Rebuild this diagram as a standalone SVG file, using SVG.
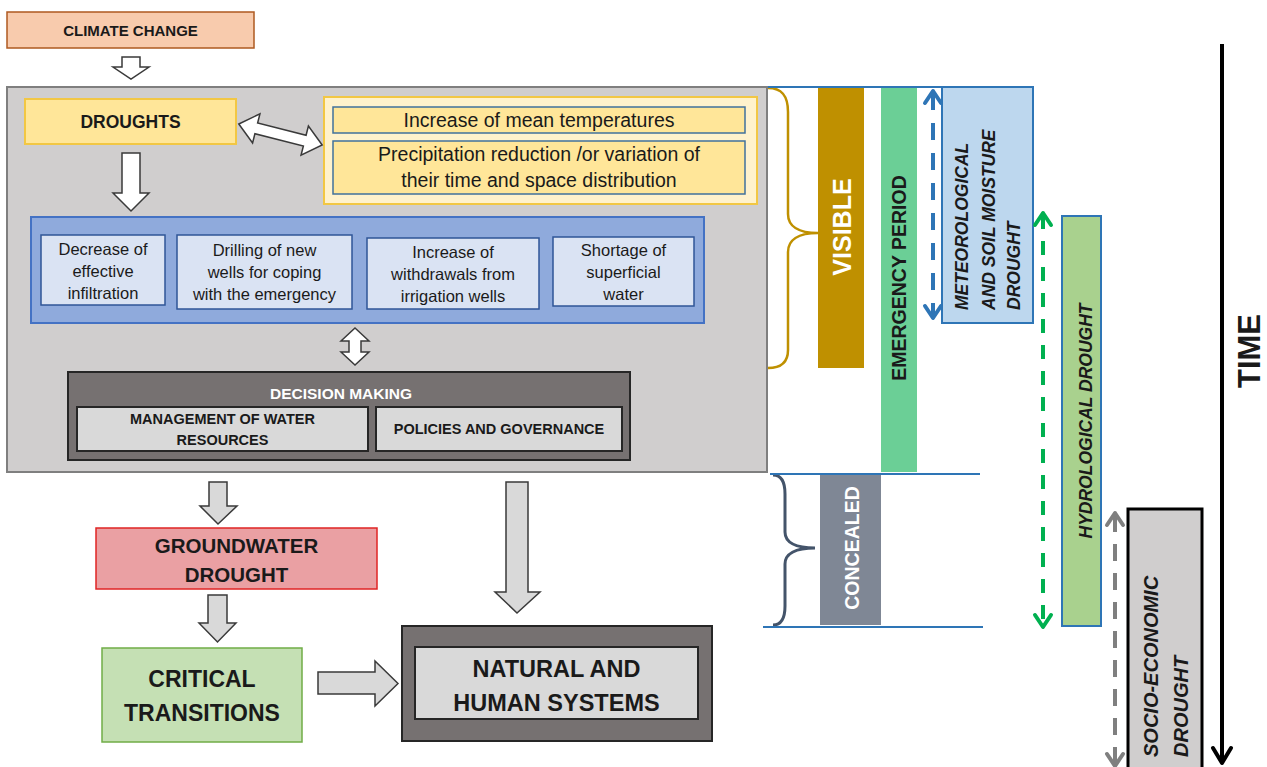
<svg xmlns="http://www.w3.org/2000/svg" width="1267" height="767" viewBox="0 0 1267 767">
  <style>
    text { font-family: "Liberation Sans", Arial, sans-serif; fill: #1a1a1a; }
    .b { font-weight: bold; }
    .bi { font-weight: bold; font-style: italic; }
    .m { text-anchor: middle; }
    .w { fill: #ffffff; }
    .blk { fill: #ffffff; stroke: #3a3a3a; stroke-width: 1.5; }
    .blkg { fill: #d9d9d9; stroke: #3a3a3a; stroke-width: 1.5; }
    .cause { fill: #dae3f3; stroke: #2f5597; stroke-width: 1.5; }
    .dash { fill: none; stroke-width: 4; }
    .head { fill: none; stroke-width: 4; stroke-linecap: round; stroke-linejoin: round; }
  </style>

  <g id="climate-change">
    <rect x="7" y="12" width="247" height="36" fill="#f8cbad" stroke="#ae5a21" stroke-width="1.5"/>
    <text x="130.5" y="36" class="b m" font-size="15">CLIMATE CHANGE</text>
  </g>

  <g id="drought-frame">
    <rect x="7" y="87" width="760" height="385" fill="#d0cece" stroke="#7f7f7f" stroke-width="2"/>
  </g>

  <g id="droughts">
    <rect x="25" y="99" width="211" height="45" fill="#ffe699" stroke="#f2c744" stroke-width="2"/>
    <text x="130.5" y="128" class="b m" font-size="17.5">DROUGHTS</text>
  </g>

  <g id="climate-drivers">
    <rect x="324" y="97" width="433" height="107" fill="#fff2cc" stroke="#f2c744" stroke-width="2"/>
    <rect x="333" y="107" width="412" height="26" fill="#ffe699" stroke="#41719c" stroke-width="1.5"/>
    <text x="539" y="127" class="m" font-size="19.5">Increase of mean temperatures</text>
    <rect x="333" y="141" width="412" height="53" fill="#ffe699" stroke="#41719c" stroke-width="1.5"/>
    <text x="539" y="161" class="m" font-size="19.5">Precipitation reduction /or variation of</text>
    <text x="539" y="187" class="m" font-size="19.5">their time and space distribution</text>
  </g>

  <g id="effects">
    <rect x="31" y="217" width="673" height="106" fill="#8faadc" stroke="#4472c4" stroke-width="2"/>
    <g id="effect-infiltration">
      <rect x="41" y="235" width="124" height="70" class="cause"/>
      <text x="103" y="255" class="m" font-size="16.5">Decrease of</text>
      <text x="103" y="277" class="m" font-size="16.5">effective</text>
      <text x="103" y="299" class="m" font-size="16.5">infiltration</text>
    </g>
    <g id="effect-new-wells">
      <rect x="177" y="235" width="175" height="74" class="cause"/>
      <text x="264.5" y="256" class="m" font-size="16.5">Drilling of new</text>
      <text x="264.5" y="278" class="m" font-size="16.5">wells for coping</text>
      <text x="264.5" y="300" class="m" font-size="16.5">with the emergency</text>
    </g>
    <g id="effect-withdrawals">
      <rect x="367" y="238" width="172" height="71" class="cause"/>
      <text x="453" y="258" class="m" font-size="16.5">Increase of</text>
      <text x="453" y="280" class="m" font-size="16.5">withdrawals from</text>
      <text x="453" y="302" class="m" font-size="16.5">irrigation wells</text>
    </g>
    <g id="effect-surface-water">
      <rect x="553" y="237" width="141" height="69" class="cause"/>
      <text x="623.5" y="256" class="m" font-size="16.5">Shortage of</text>
      <text x="623.5" y="278" class="m" font-size="16.5">superficial</text>
      <text x="623.5" y="300" class="m" font-size="16.5">water</text>
    </g>
  </g>

  <g id="decision-making">
    <rect x="68" y="372" width="562" height="88" fill="#767171" stroke="#262626" stroke-width="2"/>
    <text x="341" y="399" class="b m w" font-size="15.5">DECISION MAKING</text>
    <rect x="77" y="407" width="291" height="44" fill="#d9d9d9" stroke="#262626" stroke-width="2"/>
    <text x="222.5" y="424" class="b m" font-size="14.5">MANAGEMENT OF WATER</text>
    <text x="222.5" y="445" class="b m" font-size="14.5">RESOURCES</text>
    <rect x="376" y="407" width="246" height="44" fill="#d9d9d9" stroke="#262626" stroke-width="2"/>
    <text x="499" y="434" class="b m" font-size="14.5">POLICIES AND GOVERNANCE</text>
  </g>

  <g id="groundwater-drought">
    <rect x="96" y="528" width="281" height="61" fill="#eaa0a3" stroke="#e02424" stroke-width="1.5"/>
    <text x="236.5" y="553" class="b m" font-size="20.5">GROUNDWATER</text>
    <text x="236.5" y="582" class="b m" font-size="20.5">DROUGHT</text>
  </g>

  <g id="critical-transitions">
    <rect x="102" y="648" width="200" height="94" fill="#c5e0b4" stroke="#70ad47" stroke-width="1.5"/>
    <text x="202" y="687" class="b m" font-size="23">CRITICAL</text>
    <text x="202" y="721" class="b m" font-size="23">TRANSITIONS</text>
  </g>

  <g id="natural-human-systems">
    <rect x="402" y="626" width="310" height="115" fill="#767171" stroke="#262626" stroke-width="2"/>
    <rect x="415" y="647" width="283" height="72" fill="#d9d9d9" stroke="#262626" stroke-width="2"/>
    <text x="556.5" y="677" class="b m" font-size="23.5">NATURAL AND</text>
    <text x="556.5" y="711" class="b m" font-size="23.5">HUMAN SYSTEMS</text>
  </g>

  <!-- visible / concealed phase markers -->
  <g id="visible-phase">
    <path d="M768 88 C782 88 788 96 788 112 L788 214 C788 226 798 233 818 233 M818 233 C798 233 788 240 788 252 L788 350 C788 362 782 368 768 368" fill="none" stroke="#bf9000" stroke-width="2.5"/>
    <rect x="818" y="86" width="46" height="282" fill="#bf9000"/>
    <text transform="translate(851,227) rotate(-90)" class="b m w" font-size="25">VISIBLE</text>
  </g>

  <g id="emergency-period">
    <rect x="881" y="86" width="36" height="386" fill="#6bcf96"/>
    <text transform="translate(906,278) rotate(-90)" class="b m" font-size="19.5">EMERGENCY PERIOD</text>
  </g>

  <g id="concealed-phase">
    <path d="M773 475 C781 475 785 482 785 494 L785 532 C785 542 795 548 815 548 M815 548 C795 548 785 554 785 564 L785 606 C785 618 781 625 773 625" fill="none" stroke="#44546a" stroke-width="3"/>
    <rect x="820" y="474" width="61" height="151" fill="#7f8795"/>
    <text transform="translate(859,548) rotate(-90)" class="b m w" font-size="19.5">CONCEALED</text>
  </g>

  <g id="meteorological-drought">
    <rect x="942" y="87" width="91" height="236" fill="#bdd7ee" stroke="#2e75b6" stroke-width="2"/>
    <text transform="translate(968,310) rotate(-90)" class="bi" font-size="17.5">METEOROLOGICAL</text>
    <text transform="translate(995,310) rotate(-90)" class="bi" font-size="17.5">AND SOIL MOISTURE</text>
    <text transform="translate(1020,310) rotate(-90)" class="bi" font-size="17.5">DROUGHT</text>
  </g>

  <g id="hydrological-drought">
    <rect x="1062" y="216" width="39" height="410" fill="#a9d18e" stroke="#2e75b6" stroke-width="2"/>
    <text transform="translate(1092,421) rotate(-90)" class="bi m" font-size="17.5">HYDROLOGICAL DROUGHT</text>
  </g>

  <g id="socio-economic-drought">
    <rect x="1128" y="509" width="74" height="275" fill="#d0cece" stroke="#000000" stroke-width="3"/>
    <text transform="translate(1158,757) rotate(-90)" class="bi" font-size="20">SOCIO-ECONOMIC</text>
    <text transform="translate(1188,757) rotate(-90)" class="bi" font-size="20">DROUGHT</text>
  </g>

  <g id="time-axis">
    <text transform="translate(1260,351) rotate(-90)" class="b m" font-size="31">TIME</text>
  </g>

  <g id="connectors">
    <!-- block arrows -->
    <path d="M122 57 H140 V67 H149 L131 79 L113 67 H122 Z" class="blk"/>
    <path d="M122 153 H140 V193 H149 L131 211 L113 193 H122 Z" class="blk"/>
    <path transform="translate(280.5,134.5) rotate(14.2)" d="M-43 0 L-25 -15 L-25 -5.5 L25 -5.5 L25 -15 L43 0 L25 15 L25 5.5 L-25 5.5 L-25 15 Z" class="blk"/>
    <path d="M355 328 L369 341 H361 V352 H369 L355 365 L341 352 H349 V341 H341 Z" class="blk" fill="#e6e6e6"/>
    <path d="M209 482 H227 V506 H237 L218 524 L200 506 H209 Z" class="blkg"/>
    <path d="M208 595 H227 V623 H236 L217.5 642 L199 623 H208 Z" class="blkg" fill="#eeeeee"/>
    <path d="M318 672 H375 V661 L398 683.5 L375 706 V694 H318 Z" class="blkg" fill="#eeeeee"/>
    <path d="M506 482 H528 V592 H540 L517 613 L495 592 H506 Z" class="blkg"/>

    <!-- phase boundary lines -->
    <line x1="768" y1="87" x2="942" y2="87" stroke="#2e75b6" stroke-width="2"/>
    <line x1="770" y1="474" x2="980" y2="474" stroke="#2e75b6" stroke-width="2"/>
    <line x1="763" y1="627" x2="983" y2="627" stroke="#2e75b6" stroke-width="2"/>

    <!-- duration arrows -->
    <line x1="933" y1="93" x2="933" y2="316" class="dash" stroke="#2e75b6" stroke-dasharray="17 13"/>
    <polyline points="925,103 933,91 941,103" class="head" stroke="#2e75b6"/>
    <polyline points="925,306 933,318 941,306" class="head" stroke="#2e75b6"/>

    <line x1="1043" y1="215" x2="1043" y2="625" class="dash" stroke="#00b050" stroke-dasharray="14 12"/>
    <polyline points="1035,225 1043,213 1051,225" class="head" stroke="#00b050"/>
    <polyline points="1035,615 1043,627 1051,615" class="head" stroke="#00b050"/>

    <line x1="1115" y1="515" x2="1115" y2="763" class="dash" stroke="#7f7f7f" stroke-dasharray="17 12"/>
    <polyline points="1107,525 1115,513 1123,525" class="head" stroke="#7f7f7f"/>
    <polyline points="1107,754 1115,766 1123,754" class="head" stroke="#7f7f7f"/>

    <!-- time axis -->
    <line x1="1222" y1="44" x2="1222" y2="762" stroke="#000000" stroke-width="4"/>
    <polyline points="1213,748 1222,763 1231,748" class="head" stroke="#000000"/>
  </g>
</svg>
